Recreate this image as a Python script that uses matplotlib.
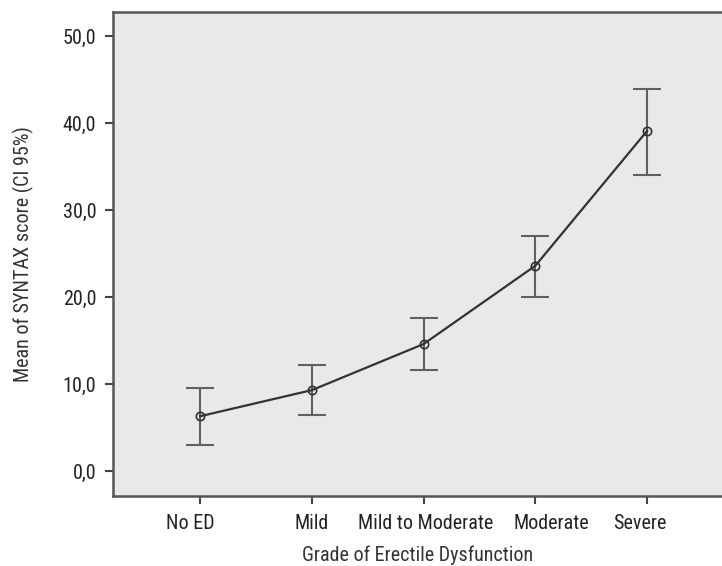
import numpy as np
import matplotlib
matplotlib.use('Agg')
import matplotlib.pyplot as plt
import matplotlib.transforms as mtransforms
from matplotlib import font_manager

categories = ['No ED', 'Mild', 'Mild to Moderate', 'Moderate', 'Severe']
means = [6.3, 9.3, 14.6, 23.6, 39.1]
ci_low = [3.0, 6.4, 11.6, 20.0, 34.0]
ci_high = [9.6, 12.2, 17.6, 27.0, 43.9]
yticks = [0, 10, 20, 30, 40, 50]

# condensed font like the SPSS original, fall back if missing
names = {f.name for f in font_manager.fontManager.ttflist}
fam = 'Liberation Sans'
for cand in ['Roboto Condensed', 'Archivo Narrow', 'PT Sans Narrow']:
    if cand in names:
        fam = cand
        break
plt.rcParams['font.family'] = [fam, 'DejaVu Sans']

fig = plt.figure(figsize=(7.22, 5.66), dpi=100)
ax = fig.add_axes([113 / 722, 70 / 566, 1 - 113 / 722, (496 - 12) / 566])
ax.set_facecolor('#e9e9eb')

x = np.arange(len(categories))
m = np.array(means)
yerr = [m - np.array(ci_low), np.array(ci_high) - m]
ax.errorbar(x, m, yerr=yerr, fmt='none', ecolor='#606060', elinewidth=1.5,
            capsize=10, capthick=1.5)
ax.plot(x, m, color='#333333', lw=1.6, marker='o', ms=6,
        mfc='none', mec='#333333', mew=1.2)

ax.set_xlim(-0.78, 4.67)
ax.set_ylim(-2.87, 52.76)
ax.set_xticks(x)
ax.set_xticklabels(categories)
ax.set_yticks(yticks)
ax.set_yticklabels([f'{v:.1f}'.replace('.', ',') for v in yticks])
ax.tick_params(labelsize=14.5, color='#444444', width=1.5, length=6, colors='#222222')
ax.tick_params(axis='x', pad=7)
ax.tick_params(axis='y', pad=6)

# the original nudges some category labels sideways
shifts = [-10, 0, 2, 16, -7]
for lab, dx in zip(ax.get_xticklabels(), shifts):
    lab.set_transform(lab.get_transform() +
                      mtransforms.ScaledTranslation(dx / 100, 0, fig.dpi_scale_trans))

for s in ['left', 'bottom', 'top']:
    ax.spines[s].set_color('#555555')
    ax.spines[s].set_linewidth(1.8)
ax.spines['right'].set_visible(False)

ax.set_xlabel('Grade of Erectile Dysfunction', fontsize=14.5, color='#333333', labelpad=9)
ax.set_ylabel('Mean of SYNTAX score (CI 95%)', fontsize=14.5, color='#333333', labelpad=21)

fig.savefig('out.png', dpi=100)
